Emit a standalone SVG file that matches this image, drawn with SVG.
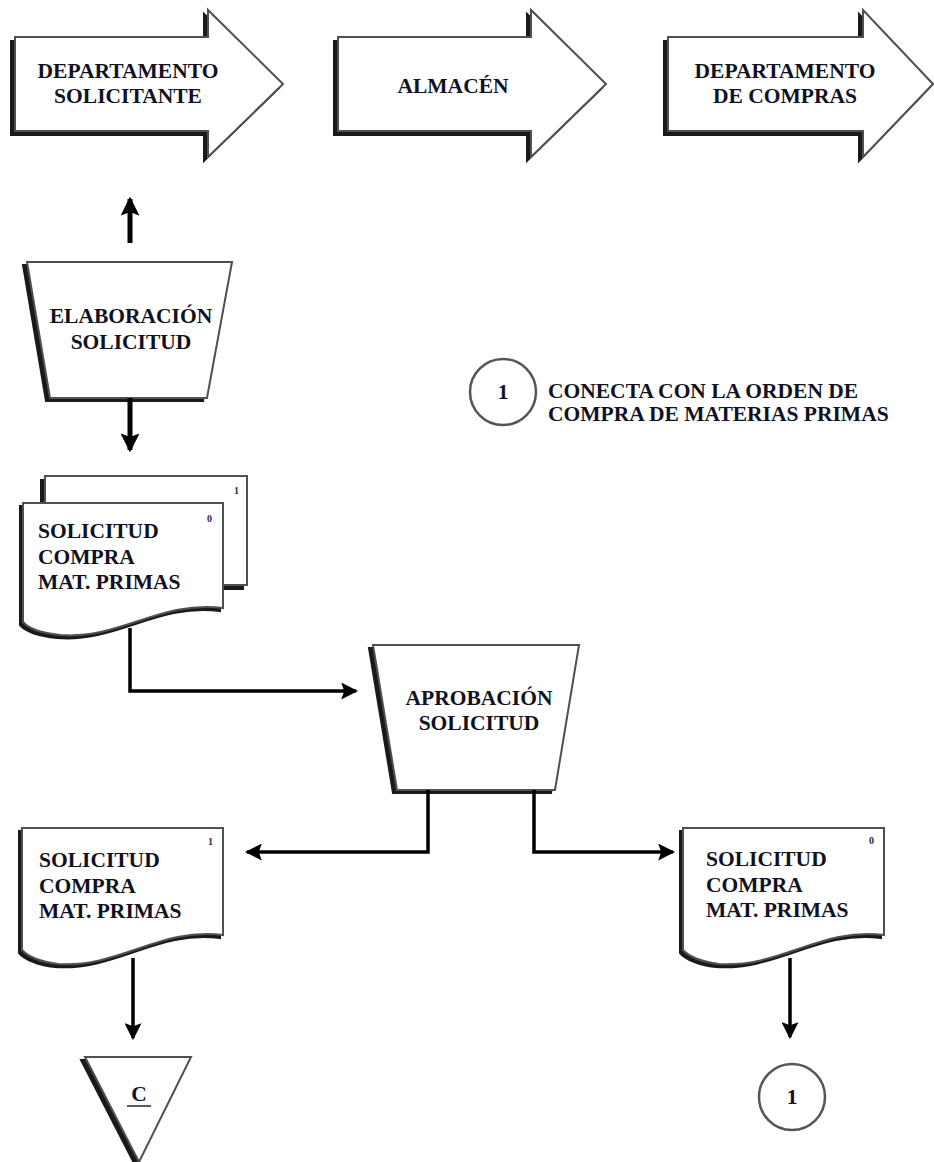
<svg xmlns="http://www.w3.org/2000/svg" width="934" height="1162" viewBox="0 0 934 1162">
  <defs>
    <style>
      .shape { fill: #ffffff; stroke: #505050; stroke-width: 2; stroke-linejoin: miter; }
      .shadow { fill: #1a1a1a; stroke: #1a1a1a; stroke-width: 2; }
      .ring { fill: #ffffff; stroke: #555555; stroke-width: 2.5; }
      text { font-family: "Liberation Serif", "DejaVu Serif", serif; font-weight: bold; }
      .lbl { font-size: 21.5px; fill: #111122; }
      .mid { text-anchor: middle; }
      .num { font-size: 10px; fill: #332244; }
      .flow { fill: none; stroke: #000000; stroke-width: 3.5; }
      .flow-thick { fill: none; stroke: #000000; stroke-width: 5; }
    </style>
    <marker id="head" viewBox="0 0 16 16" refX="14" refY="8" markerWidth="17" markerHeight="17" markerUnits="userSpaceOnUse" orient="auto">
      <path d="M0,0 L16,8 L0,16 L3,8 Z" fill="#000000"/>
    </marker>
    <marker id="headBig" viewBox="0 0 16 16" refX="14" refY="8" markerWidth="19" markerHeight="19" markerUnits="userSpaceOnUse" orient="auto">
      <path d="M0,0 L16,8 L0,16 L3,8 Z" fill="#000000"/>
    </marker>
  </defs>

  <rect x="0" y="0" width="934" height="1162" fill="#ffffff"/>

  <g font-family="Liberation Serif, DejaVu Serif, serif" font-weight="bold">

  <!-- Department banners -->
  <g id="dept-solicitante">
    <path class="shadow" transform="translate(-4,4)" d="M15,37 H208 V10 L283,84 L208,157 V131 H15 Z"/>
    <path class="shape" d="M15,37 H208 V10 L283,84 L208,157 V131 H15 Z"/>
    <text class="lbl mid" x="128" y="78">DEPARTAMENTO</text>
    <text class="lbl mid" x="128" y="103">SOLICITANTE</text>
  </g>

  <g id="almacen">
    <path class="shadow" transform="translate(-4,4)" d="M338,37 H531 V10 L606,84 L531,157 V131 H338 Z"/>
    <path class="shape" d="M338,37 H531 V10 L606,84 L531,157 V131 H338 Z"/>
    <text class="lbl mid" x="453" y="93">ALMACÉN</text>
  </g>

  <g id="dept-compras">
    <path class="shadow" transform="translate(-4,4)" d="M668,37 H863 V10 L933,84 L863,157 V131 H668 Z"/>
    <path class="shape" d="M668,37 H863 V10 L933,84 L863,157 V131 H668 Z"/>
    <text class="lbl mid" x="785" y="78">DEPARTAMENTO</text>
    <text class="lbl mid" x="785" y="103">DE COMPRAS</text>
  </g>

  <!-- Manual operation: request drafting -->
  <g id="elaboracion">
    <path class="shadow" transform="translate(-4,3)" d="M27,262 H232 L207,398 H50 Z"/>
    <path class="shape" d="M27,262 H232 L207,398 H50 Z"/>
    <text class="lbl mid" x="131" y="323">ELABORACIÓN</text>
    <text class="lbl mid" x="131" y="349">SOLICITUD</text>
  </g>

  <!-- Purchase request, two copies -->
  <g id="solicitud-copias">
    <rect class="shadow" x="41" y="480" width="202" height="109"/>
    <rect class="shape" x="45" y="476" width="202" height="109"/>
    <text class="num" x="234" y="494">1</text>
    <path class="shadow" transform="translate(-3,3)" d="M23,503 H223 V608 C160,600 120,640 60,635 C42,633 28,628 23,622 Z"/>
    <path class="shape" d="M23,503 H223 V608 C160,600 120,640 60,635 C42,633 28,628 23,622 Z"/>
    <text class="num" x="207" y="522">0</text>
    <text class="lbl" x="38" y="538">SOLICITUD</text>
    <text class="lbl" x="38" y="564">COMPRA</text>
    <text class="lbl" x="38" y="589">MAT. PRIMAS</text>
  </g>

  <!-- Legend -->
  <g id="leyenda">
    <circle class="ring" cx="503" cy="392" r="33"/>
    <text class="lbl mid" x="503" y="399">1</text>
    <text class="lbl" x="548" y="398">CONECTA CON LA ORDEN DE</text>
    <text class="lbl" x="548" y="421">COMPRA DE MATERIAS PRIMAS</text>
  </g>

  <!-- Manual operation: approval -->
  <g id="aprobacion">
    <path class="shadow" transform="translate(-4,3)" d="M373,645 H579 L555,790 H397 Z"/>
    <path class="shape" d="M373,645 H579 L555,790 H397 Z"/>
    <text class="lbl mid" x="479" y="705">APROBACIÓN</text>
    <text class="lbl mid" x="479" y="730">SOLICITUD</text>
  </g>

  <!-- Copy 1 -->
  <g id="solicitud-copia-1">
    <path class="shadow" transform="translate(-3,3)" d="M22,828 H223 V935 C160,927 120,968 58,964 C40,962 27,956 22,950 Z"/>
    <path class="shape" d="M22,828 H223 V935 C160,927 120,968 58,964 C40,962 27,956 22,950 Z"/>
    <text class="num" x="208" y="845">1</text>
    <text class="lbl" x="39" y="867">SOLICITUD</text>
    <text class="lbl" x="39" y="893">COMPRA</text>
    <text class="lbl" x="39" y="918">MAT. PRIMAS</text>
  </g>

  <!-- Copy 0 -->
  <g id="solicitud-copia-0">
    <path class="shadow" transform="translate(-3,3)" d="M683,828 H884 V935 C821,927 781,968 719,964 C701,962 688,956 683,950 Z"/>
    <path class="shape" d="M683,828 H884 V935 C821,927 781,968 719,964 C701,962 688,956 683,950 Z"/>
    <text class="num" x="869" y="844">0</text>
    <text class="lbl" x="706" y="866">SOLICITUD</text>
    <text class="lbl" x="706" y="892">COMPRA</text>
    <text class="lbl" x="706" y="917">MAT. PRIMAS</text>
  </g>

  <!-- Temporary file -->
  <g id="archivo-c">
    <path class="shadow" transform="translate(-4,3)" d="M85,1057 H191 L139,1162 Z"/>
    <path class="shape" d="M85,1057 H191 L139,1162 Z"/>
    <text class="lbl mid" x="139" y="1101">C</text>
    <line x1="127" y1="1106" x2="151" y2="1106" stroke="#222222" stroke-width="1.5"/>
  </g>

  <!-- Off-page connector -->
  <g id="conector-1">
    <circle class="ring" cx="792" cy="1097" r="33"/>
    <text class="lbl mid" x="792" y="1104">1</text>
  </g>

  </g>

  <!-- Flow lines -->
  <g id="connectors">
    <path class="flow-thick" d="M130,243 V199" marker-end="url(#headBig)"/>
    <path class="flow-thick" d="M130,398 V450" marker-end="url(#headBig)"/>
    <path class="flow" d="M130,628 V691 H356" marker-end="url(#head)"/>
    <path class="flow" d="M428,790 V852 H247" marker-end="url(#head)"/>
    <path class="flow" d="M534,790 V852 H673" marker-end="url(#head)"/>
    <path class="flow" d="M133,958 V1038" marker-end="url(#head)"/>
    <path class="flow" d="M790,958 V1037" marker-end="url(#head)"/>
  </g>
</svg>
